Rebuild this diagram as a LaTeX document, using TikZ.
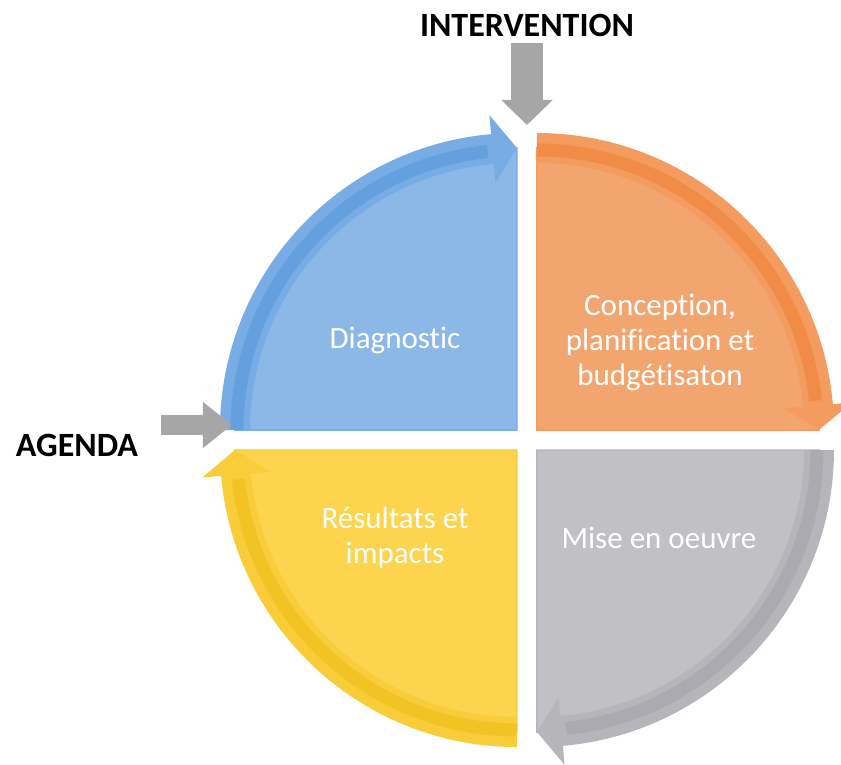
\documentclass[tikz,border=0pt]{standalone}
\usepackage{fontspec}
\setmainfont{Carlito}[Ligatures=NoCommon]
\usetikzlibrary{arrows.meta,positioning}

\definecolor{bluefill}{HTML}{8CB8E8}
\definecolor{blueband}{HTML}{78ACE4}
\definecolor{bluestripe}{HTML}{65A0DE}
\definecolor{orangefill}{HTML}{F3A570}
\definecolor{orangeband}{HTML}{F49C5F}
\definecolor{orangestripe}{HTML}{F08C47}
\definecolor{grayfill}{HTML}{C0C0C5}
\definecolor{grayband}{HTML}{B5B5BA}
\definecolor{graystripe}{HTML}{AAAAB0}
\definecolor{yellowfill}{HTML}{FCD44E}
\definecolor{yellowband}{HTML}{F9CC3A}
\definecolor{yellowstripe}{HTML}{F1C424}
\definecolor{arrowgray}{HTML}{A6A6A6}

\begin{document}
\begin{tikzpicture}[x=1pt,y=1pt,
  every node/.style={font=\fontsize{31}{35}\selectfont,text=white,align=center},
  title/.style={font=\fontsize{34}{36}\selectfont\bfseries,text=black},
  blockarrow/.style={draw=arrowgray,line width=32pt,-{Triangle[width=50pt,length=25pt]}}]
  \useasboundingbox (-527,-324) rectangle (314,440);
  % four quarters, each with a curved arrow along its rim
  \foreach \cx/\cy/\b/\fc/\bc/\sc in {-10/10/90/bluefill/blueband/bluestripe,
      10/10/0/orangefill/orangeband/orangestripe,
      10/-10/-90/grayfill/grayband/graystripe,
      -10/-10/180/yellowfill/yellowband/yellowstripe}{
    \begin{scope}[shift={(\cx,\cy)}]
      \fill[\fc,draw=\bc,line width=1.5] (0,0) -- ({\b+90}:282)
        arc[start angle=\b+90,end angle=\b,radius=282] -- cycle;
      \fill[\bc] ({\b+90}:297) arc[start angle=\b+90,end angle=\b+5,radius=297]
        -- ({\b+5}:316) -- (\b:282) -- ({\b+5}:248) -- ({\b+5}:267)
        arc[start angle=\b+5,end angle=\b+90,radius=267] -- cycle;
      \draw[\sc,line width=13] ({\b+90}:280) arc[start angle=\b+90,end angle=\b+6,radius=280];
    \end{scope}
  }
  \node (diag) at (-132,100) {Diagnostic};
  \node (conc) at (133,98) {Conception,\\planification et\\budgétisaton};
  \node (mise) at (132,-98) {Mise en oeuvre};
  \node (res) at (-132,-98) {Résultats et\\impacts};
  % entry points
  \node[title] (interv) at (0,415) {INTERVENTION};
  \node[title] (agenda) at (-450,-5) {AGENDA};
  \coordinate (intip) at (0,315);
  \coordinate (agstart) at (-366,15);
  \coordinate (agtip) at (-295,15);
  \draw[blockarrow] ([yshift=-3pt]interv.south) -- (intip);
  \draw[blockarrow,line width=20pt,-{Triangle[width=44pt,length=29pt]}] (agstart) -- (agtip);
\end{tikzpicture}
\end{document}
